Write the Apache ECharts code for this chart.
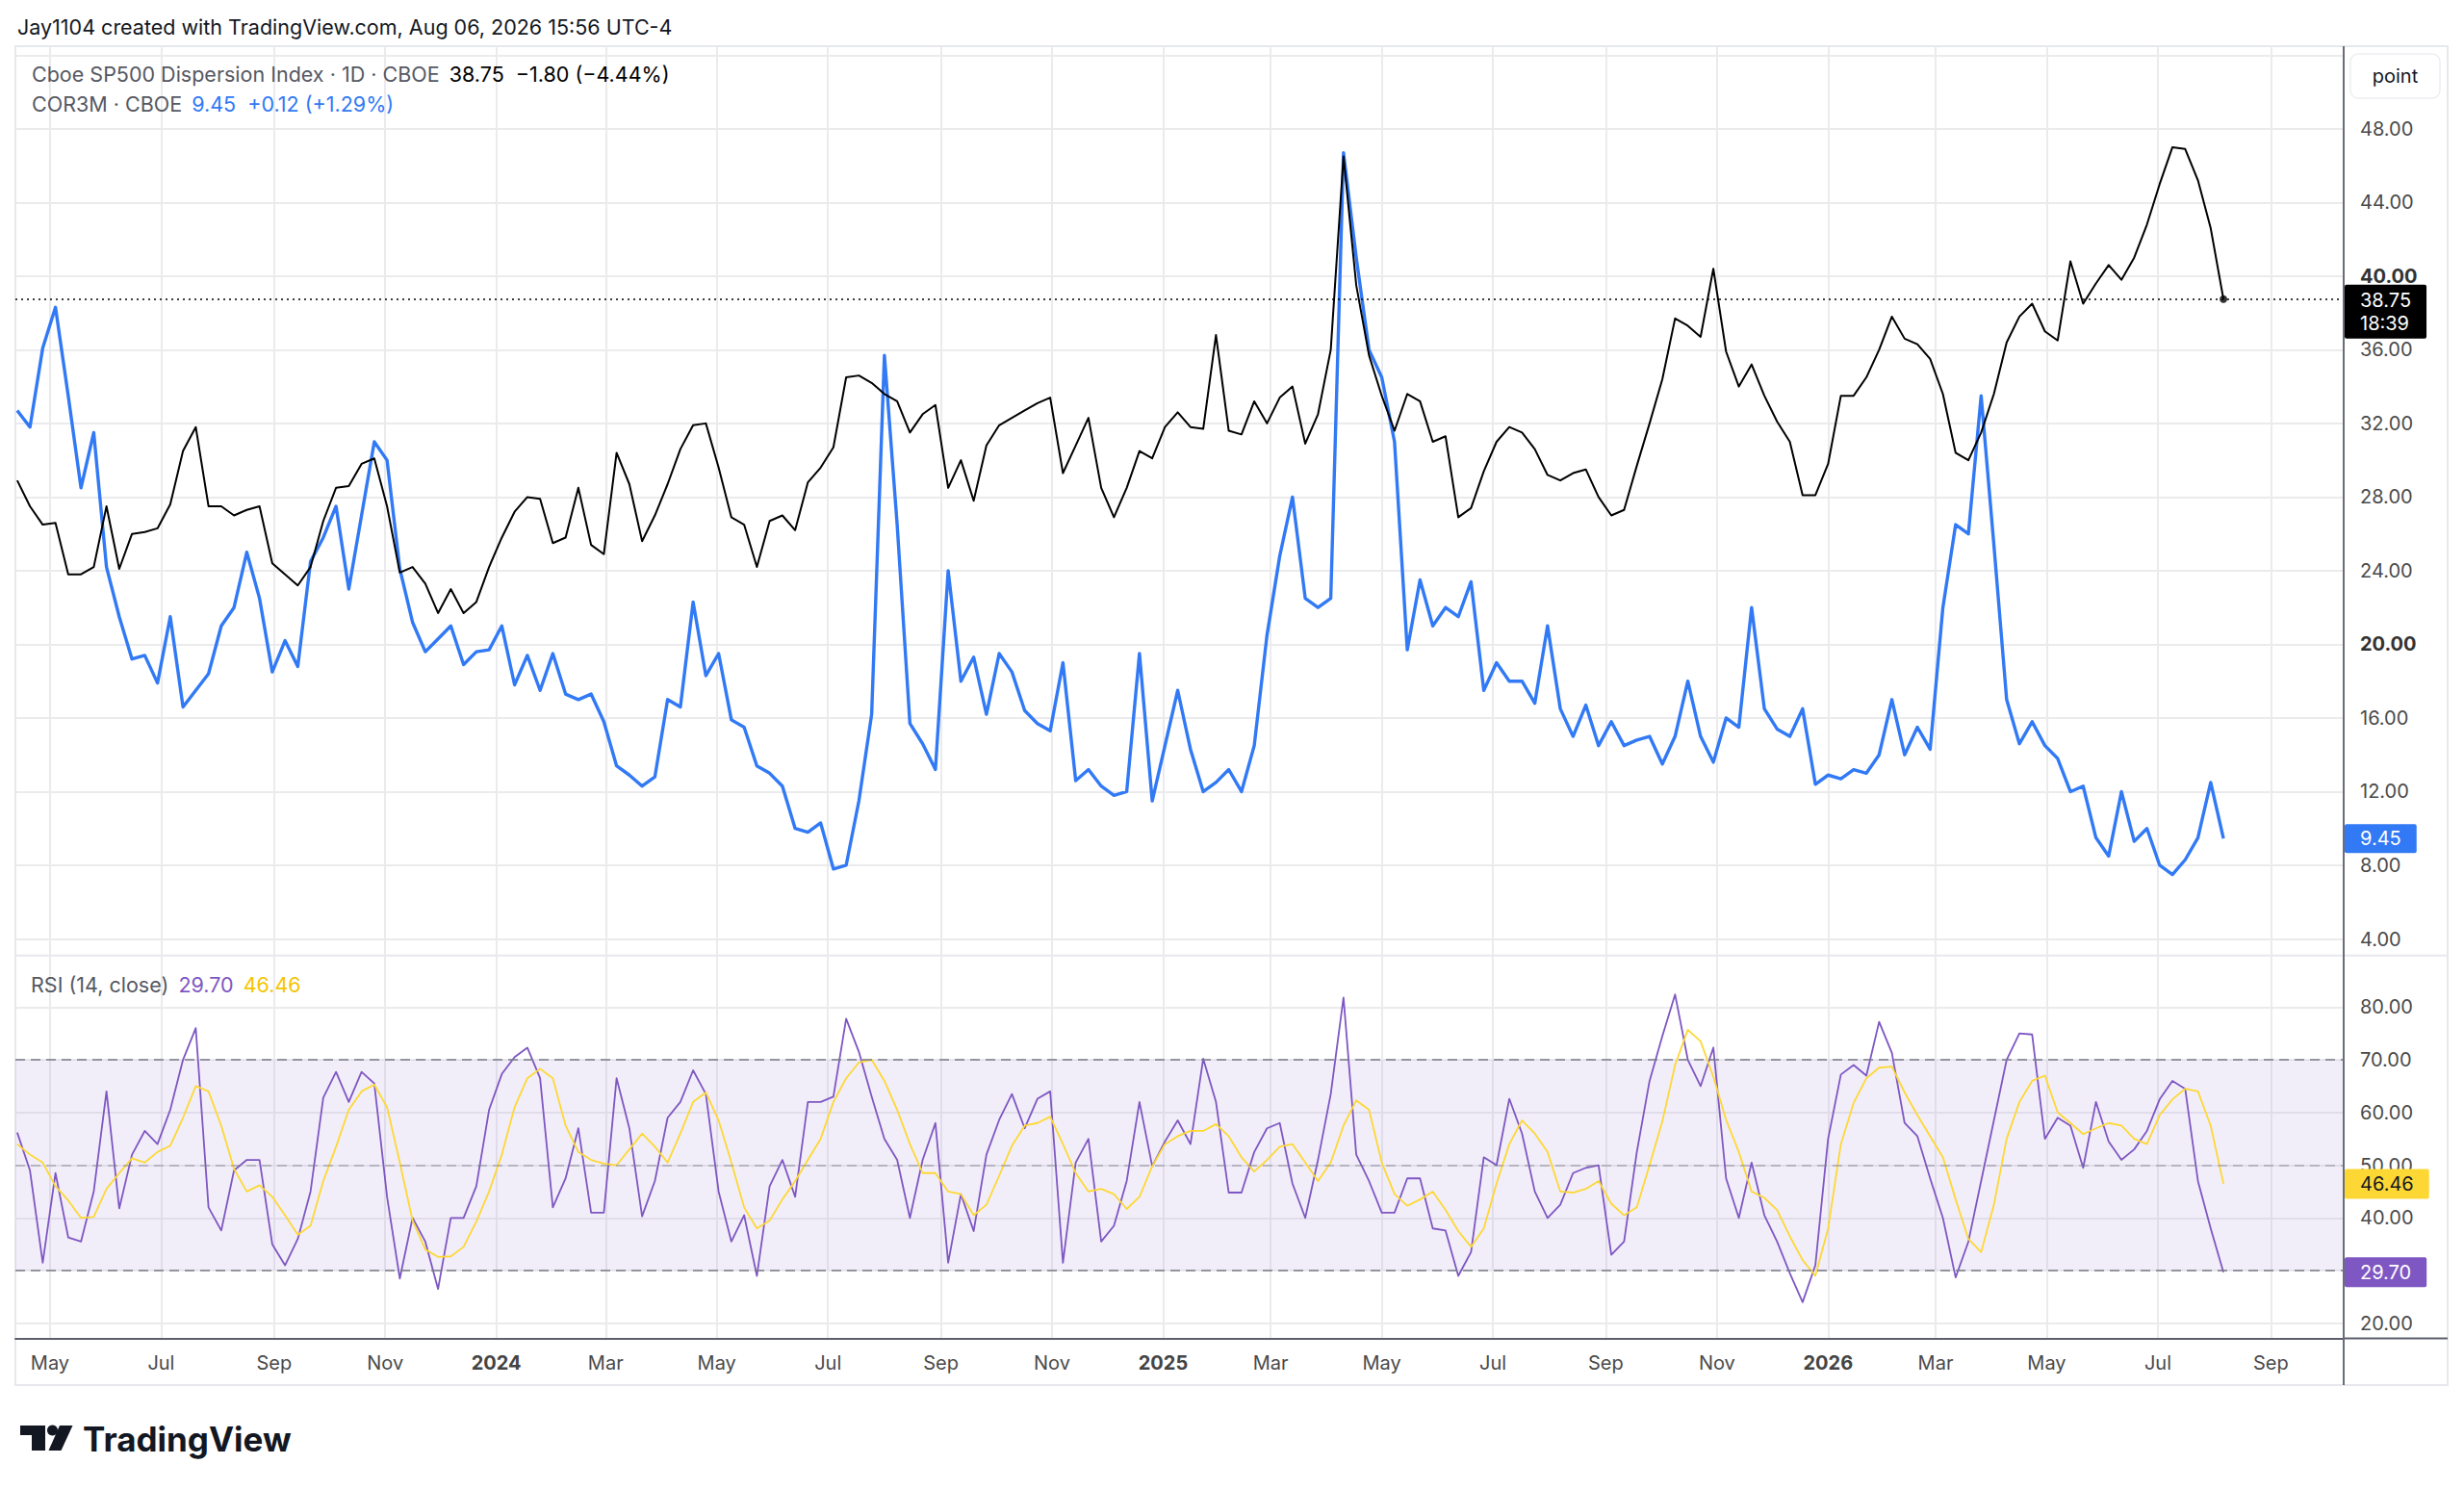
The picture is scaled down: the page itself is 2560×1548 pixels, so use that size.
<!DOCTYPE html>
<html>
<head>
<meta charset="utf-8">
<script src="https://cdn.jsdelivr.net/npm/echarts@6/dist/echarts.min.js"></script>
<style>html,body{margin:0;padding:0;background:#fff}#c{width:2560px;height:1548px}</style>
</head>
<body>
<div id="c"></div>
<script>
// ---------- DATA (weekly samples) ----------
const START_DATE = '2023-04-13';
const STEP_DAYS = 7;

const dispersion = [
28.9,27.5,26.5,26.6,23.8,23.8,24.2,27.5,24.1,26.0,26.1,26.3,27.6,30.5,31.8,27.5,27.5,27.0,27.3,27.5,
24.4,23.8,23.2,24.2,26.7,28.5,28.6,29.8,30.1,27.5,23.9,24.2,23.3,21.7,23.0,21.7,22.3,24.2,25.8,27.2,
28.0,27.9,25.5,25.8,28.5,25.4,24.9,30.4,28.7,25.6,27.0,28.7,30.6,31.9,32.0,29.6,26.9,26.5,24.2,26.7,
27.0,26.2,28.8,29.6,30.7,34.5,34.6,34.2,33.6,33.2,31.5,32.5,33.0,28.5,30.0,27.8,30.8,31.9,32.3,32.7,
33.1,33.4,29.3,30.8,32.3,28.5,26.9,28.5,30.5,30.1,31.8,32.6,31.8,31.7,36.8,31.6,31.4,33.2,32.0,33.4,
34.0,30.9,32.5,36.0,46.5,39.5,35.7,33.5,31.6,33.6,33.2,31.0,31.3,26.9,27.4,29.4,31.0,31.8,31.5,30.6,
29.2,28.9,29.3,29.5,28.0,27.0,27.3,29.7,32.0,34.4,37.7,37.3,36.7,40.4,35.9,34.0,35.2,33.5,32.1,31.0,
28.1,28.1,29.8,33.5,33.5,34.5,36.0,37.8,36.6,36.3,35.5,33.6,30.4,30.0,31.5,33.6,36.4,37.8,38.5,37.0,
36.5,40.8,38.5,39.6,40.6,39.8,41.0,42.8,45.0,47.0,46.9,45.2,42.6,38.75
];

const cor3m = [
32.7,31.8,36.1,38.3,33.5,28.5,31.5,24.2,21.5,19.2,19.4,17.9,21.5,16.6,17.5,18.4,21.0,22.0,25.0,22.5,
18.5,20.2,18.8,24.5,25.8,27.5,23.0,27.0,31.0,30.0,24.1,21.2,19.6,20.3,21.0,18.9,19.6,19.7,21.0,17.8,
19.4,17.5,19.5,17.3,17.0,17.3,15.8,13.4,12.9,12.3,12.8,17.0,16.6,22.3,18.3,19.5,15.9,15.5,13.4,13.0,
12.3,10.0,9.8,10.3,7.8,8.0,11.5,16.2,35.7,26.5,15.7,14.6,13.2,24.0,18.0,19.3,16.2,19.5,18.5,16.4,
15.7,15.3,19.0,12.6,13.2,12.3,11.8,12.0,19.5,11.5,14.5,17.5,14.3,12.0,12.5,13.2,12.0,14.5,20.5,24.8,
28.0,22.5,22.0,22.5,46.7,41.0,36.0,34.5,31.0,19.7,23.5,21.0,22.0,21.5,23.4,17.5,19.0,18.0,18.0,16.8,
21.0,16.5,15.0,16.7,14.5,15.8,14.5,14.8,15.0,13.5,15.0,18.0,15.0,13.6,16.0,15.5,22.0,16.5,15.4,15.0,
16.5,12.4,12.9,12.7,13.2,13.0,14.0,17.0,14.0,15.5,14.3,22.0,26.5,26.0,33.5,25.4,17.0,14.6,15.8,14.5,
13.8,12.0,12.3,9.5,8.5,12.0,9.3,10.0,8.0,7.5,8.3,9.5,12.5,9.45
];

const rsi = [
56.2,49.0,31.5,48.5,36.3,35.5,45.0,64.0,41.8,52.0,56.5,54.0,60.5,70.0,76.0,42.0,37.6,49.0,51.0,51.0,
35.0,31.0,36.0,45.0,62.8,67.7,62.0,67.7,65.5,44.0,28.5,40.0,35.5,26.5,40.0,40.0,46.0,60.5,67.3,70.5,
72.3,66.5,42.0,47.5,57.0,41.0,41.0,66.5,57.0,40.3,47.0,59.0,62.0,68.0,63.5,45.0,35.5,40.5,29.0,46.0,
51.0,44.0,62.0,62.0,63.0,77.8,71.5,63.0,55.0,51.0,40.0,51.0,58.0,31.5,44.5,37.5,52.0,58.6,63.5,57.0,
62.6,64.0,31.5,50.5,55.0,35.5,38.5,47.0,62.0,49.8,54.5,58.5,54.0,70.2,62.0,44.8,44.8,52.5,57.0,58.0,
46.5,40.0,51.0,63.5,81.8,52.0,47.0,41.0,41.0,47.5,47.5,38.0,37.6,29.0,33.5,51.5,50.0,62.6,56.0,45.0,
40.0,42.5,48.5,49.5,50.0,33.0,35.5,52.5,66.0,74.5,82.4,70.0,65.0,72.3,47.5,40.0,50.5,40.5,35.5,29.5,
24.0,31.0,55.0,67.2,69.0,67.0,77.2,71.3,58.0,55.5,47.5,40.0,28.7,35.5,47.0,58.5,70.0,75.0,74.8,55.0,
59.0,57.5,49.5,62.0,54.5,51.0,53.0,56.5,62.5,66.0,64.5,47.0,38.0,29.70
];

const rsiMA = [
54.0,52.0,50.5,46.0,43.3,40.0,40.2,45.5,48.5,51.3,50.5,52.5,53.7,59.0,65.0,64.0,57.5,49.3,45.0,46.2,
44.0,40.5,36.8,38.5,47.0,53.5,60.5,64.0,65.3,61.0,50.5,39.5,34.0,32.6,32.7,34.5,39.3,45.0,52.0,61.0,
66.5,68.3,66.5,57.5,52.5,51.0,50.3,50.0,53.0,56.0,53.5,50.5,56.0,62.0,63.8,58.5,50.5,42.0,38.0,39.5,
43.5,47.0,51.0,55.0,62.0,66.5,69.5,70.0,66.0,60.5,54.0,48.5,48.5,45.0,44.5,40.5,42.5,48.0,53.7,57.5,
58.0,59.2,54.0,48.5,45.0,45.5,44.5,41.7,44.0,49.8,54.0,55.5,56.5,56.5,57.8,55.5,51.5,48.8,51.0,53.5,
54.0,50.5,47.0,50.5,57.5,62.3,60.5,50.5,44.5,42.3,43.5,45.0,41.5,37.5,34.5,38.0,46.5,54.0,58.5,56.0,
52.5,45.0,44.8,45.5,47.0,42.7,40.5,42.0,50.0,58.3,69.0,75.7,73.5,66.8,58.6,52.5,45.0,43.8,41.5,36.5,
32.0,29.0,38.0,54.0,61.8,66.5,68.5,68.7,63.8,59.5,55.5,51.5,43.5,36.0,33.5,42.5,55.0,62.0,66.0,67.0,
60.0,58.0,55.9,57.0,58.0,57.5,55.0,54.0,59.5,62.5,64.5,64.0,57.5,46.46
];

const timeTickDates = ['2023-05-01','2023-07-01','2023-09-01','2023-11-01','2024-01-01','2024-03-01','2024-05-01','2024-07-01','2024-09-01','2024-11-01','2025-01-01','2025-03-01','2025-05-01','2025-07-01','2025-09-01','2025-11-01','2026-01-01','2026-03-01','2026-05-01','2026-07-01','2026-09-01'];
const timeTickLabels = ['May','Jul','Sep','Nov','2024','Mar','May','Jul','Sep','Nov','2025','Mar','May','Jul','Sep','Nov','2026','Mar','May','Jul','Sep'];
const priceTickLabels = [4,8,12,16,20,24,28,32,36,40,44,48];
const priceGridValues = [4,8,12,16,20,24,28,32,36,40,44,48,52];
const rsiTickLabels = [20,30,40,50,60,70,80];
const rsiLevels = [70,50,30];
const COUNTDOWN = '18:39';

// ---------- helpers ----------
function localMs(s){const p=s.split('-').map(Number);return new Date(p[0],p[1]-1,p[2]).getTime();}
const t0 = localMs(START_DATE);
const dateMs = dispersion.map((_, i) => { const d = new Date(t0); d.setDate(d.getDate() + i * STEP_DAYS); return d.getTime(); });
const pair = arr => arr.map((v, i) => [dateMs[i], v]);
const last = dateMs.length - 1;
const tickMs = timeTickDates.map(localMs);
const tickMap = {};
tickMs.forEach((ms, i) => { tickMap[ms] = timeTickLabels[i]; });

const BLUE = '#3179f5', PURPLE = '#7e57c2', YELLOW = '#fdd835';
const GRIDC = '#ebebee', TXT = '#4a4a4a', FONT = 'Inter';
const X_MIN = localMs('2023-04-12'), X_MAX = localMs('2026-10-11');
const HIDDEN_LINE = {color: 'rgba(0,0,0,0)', width: 0};

const valueBox = (bg, fg, extra) => Object.assign({
  show: true, position: 'end', distance: 1, backgroundColor: bg, color: fg, opacity: 1,
  fontSize: 20, fontFamily: FONT, lineHeight: 23, padding: [4, 16, 4, 16], borderRadius: 2
}, extra || {});

const xBase = (grid, showLabel) => ({
  gridIndex: grid, type: 'value', min: X_MIN, max: X_MAX,
  axisLine: {show: showLabel, onZero: false, lineStyle: {color: '#5d606b', width: 2}},
  axisTick: {show: false, customValues: tickMs},
  axisLabel: {
    show: showLabel, customValues: tickMs, margin: 15, color: TXT, fontSize: 20, fontFamily: FONT,
    showMinLabel: true, showMaxLabel: true,
    formatter: v => { const l = tickMap[v]; if (l == null) return ''; return /^\d{4}$/.test(l) ? '{b|' + l + '}' : l; },
    rich: {b: {fontWeight: 'bold', fontSize: 20, fontFamily: FONT, color: '#444'}}
  },
  splitLine: {show: true, lineStyle: {color: GRIDC, width: 2}}
});

const rt = (color) => ({fontSize: 21.5, color: color, fontFamily: FONT, fontWeight: 'normal', lineHeight: 24});

const option = {
  animation: false,
  backgroundColor: '#ffffff',
  textStyle: {fontFamily: FONT},
  title: [
    {text: 'Jay1104 created with TradingView.com, Aug 06, 2026 15:56 UTC-4', left: 18, top: 16, padding: 0,
     textStyle: {fontSize: 21.5, fontWeight: 'normal', color: '#131722', fontFamily: FONT, lineHeight: 24}},
    {text: '{g|Cboe SP500 Dispersion Index · 1D · CBOE}  {k|38.75  −1.80 (−4.44%)}', left: 33, top: 65, padding: 0,
     textStyle: {fontWeight: 'normal', rich: {g: rt('#555862'), k: rt('#000000')}}},
    {text: '{g|COR3M · CBOE}  {k|9.45  +0.12 (+1.29%)}', left: 33, top: 96, padding: 0,
     textStyle: {fontWeight: 'normal', rich: {g: rt('#555862'), k: rt(BLUE)}}},
    {text: '{g|RSI (14, close)}  {p|29.70}  {y|46.46}', left: 32, top: 1011, padding: 0,
     textStyle: {fontWeight: 'normal', rich: {g: rt('#555862'), p: rt(PURPLE), y: rt('#f5c400')}}}
  ],
  grid: [
    {left: 16, right: 125, top: 48, height: 944.7, outerBoundsMode: 'none'},
    {left: 16, right: 125, top: 993, height: 397.5, outerBoundsMode: 'none'}
  ],
  xAxis: [xBase(0, false), xBase(1, true)],
  yAxis: [
    {gridIndex: 0, type: 'value', position: 'right', min: 3.101, max: 52.485,
     axisLine: {show: false}, axisTick: {show: false, customValues: priceGridValues},
     axisLabel: {customValues: priceTickLabels, margin: 17, color: TXT, fontSize: 20, fontFamily: FONT,
       formatter: v => (v === 20 || v === 40) ? '{b|' + v.toFixed(2) + '}' : v.toFixed(2),
       rich: {b: {fontWeight: 'bold', fontSize: 20, fontFamily: FONT, color: '#333'}}},
     splitLine: {show: true, lineStyle: {color: GRIDC, width: 2}}},
    {gridIndex: 1, type: 'value', position: 'right', min: 17.13, max: 89.735,
     axisLine: {show: false}, axisTick: {show: false, customValues: rsiTickLabels},
     axisLabel: {customValues: rsiTickLabels, margin: 17, color: TXT, fontSize: 20, fontFamily: FONT,
       formatter: v => v.toFixed(2)},
     splitLine: {show: true, lineStyle: {color: GRIDC, width: 2}}}
  ],
  series: [
    {name: 'COR3M', type: 'line', xAxisIndex: 0, yAxisIndex: 0, data: pair(cor3m),
     showSymbol: false, symbol: 'none', clip: false, z: 2,
     lineStyle: {color: BLUE, width: 3.4, join: 'round'}, itemStyle: {color: BLUE},
     markLine: {silent: true, symbol: ['none', 'none'], animation: false,
       lineStyle: HIDDEN_LINE,
       label: valueBox(BLUE, '#fff', {formatter: p => Number(p.value).toFixed(2), lineHeight: 22}),
       data: [{yAxis: cor3m[last]}]}},
    {name: 'Dispersion', type: 'line', xAxisIndex: 0, yAxisIndex: 0, data: pair(dispersion),
     showSymbol: false, symbol: 'none', clip: false, z: 3,
     lineStyle: {color: '#000', width: 2, join: 'round'}, itemStyle: {color: '#000'},
     markLine: {silent: true, symbol: ['none', 'none'], animation: false,
       lineStyle: {color: '#000', width: 1.6, type: [2, 4]},
       label: valueBox('#000', '#fff', {formatter: p => Number(p.value).toFixed(2) + '\n' + COUNTDOWN, lineHeight: 24, padding: [4, 16, 4, 16], offset: [0, 13]}),
       data: [{yAxis: dispersion[last]}]}},
    {name: 'last', type: 'scatter', xAxisIndex: 0, yAxisIndex: 0, silent: true, z: 4,
     data: [[dateMs[last], dispersion[last]]], symbolSize: 8, itemStyle: {color: '#000'}},
    {name: 'RSI', type: 'line', xAxisIndex: 1, yAxisIndex: 1, data: pair(rsi),
     showSymbol: false, symbol: 'none', clip: false, z: 3,
     lineStyle: {color: PURPLE, width: 1.8, join: 'round'}, itemStyle: {color: PURPLE},
     markArea: {silent: true, itemStyle: {color: 'rgba(126,87,194,0.10)'},
       data: [[{yAxis: rsiLevels[2]}, {yAxis: rsiLevels[0]}]]},
     markLine: {silent: true, symbol: ['none', 'none'], animation: false,
       label: {show: false},
       data: [
         {yAxis: rsiLevels[0], lineStyle: {color: '#787b86', width: 1.6, type: [10, 6]}},
         {yAxis: rsiLevels[1], lineStyle: {color: '#787b86', width: 1.6, type: [10, 6], opacity: 0.55}},
         {yAxis: rsiLevels[2], lineStyle: {color: '#787b86', width: 1.6, type: [10, 6]}}
       ]}},
    {name: 'RSI last', type: 'line', xAxisIndex: 1, yAxisIndex: 1, data: [], silent: true, z: 5,
     markLine: {silent: true, symbol: ['none', 'none'], animation: false,
       lineStyle: HIDDEN_LINE,
       label: valueBox(PURPLE, '#fff', {formatter: p => Number(p.value).toFixed(2)}),
       data: [{yAxis: rsi[last]}]}},
    {name: 'RSI MA', type: 'line', xAxisIndex: 1, yAxisIndex: 1, data: pair(rsiMA),
     showSymbol: false, symbol: 'none', clip: false, z: 4,
     lineStyle: {color: YELLOW, width: 1.8, join: 'round'}, itemStyle: {color: YELLOW},
     markLine: {silent: true, symbol: ['none', 'none'], animation: false,
       lineStyle: HIDDEN_LINE,
       label: valueBox(YELLOW, '#131722', {formatter: p => Number(p.value).toFixed(2)}),
       data: [{yAxis: rsiMA[last]}]}}
  ],
  graphic: [
    {type: 'rect', silent: true, z: -1, shape: {x: 16, y: 48, width: 2527, height: 1391},
     style: {fill: 'none', stroke: '#e6e8ee', lineWidth: 2}},
    {type: 'line', silent: true, shape: {x1: 16, y1: 992.7, x2: 2543, y2: 992.7},
     style: {stroke: '#e6e8ee', lineWidth: 2}},
    {type: 'line', silent: true, shape: {x1: 2435, y1: 1390.5, x2: 2543, y2: 1390.5},
     style: {stroke: '#5d606b', lineWidth: 2}},
    {type: 'line', silent: true, z: 10, shape: {x1: 2435, y1: 48, x2: 2435, y2: 1439},
     style: {stroke: '#6a6d78', lineWidth: 2}},
    {type: 'rect', silent: true, shape: {x: 2442, y: 56, width: 93, height: 46, r: 8},
     style: {fill: '#fff', stroke: '#eceef2', lineWidth: 1.5}},
    {type: 'text', silent: true, x: 2488.5, y: 79,
     style: {text: 'point', fill: '#131722', fontSize: 20, fontFamily: FONT, align: 'center', verticalAlign: 'middle'}},
    {type: 'polygon', silent: true, shape: {points: [[21,1481],[47,1481],[47,1507],[33,1507],[33,1491],[21,1491]]}, style: {fill: '#131722'}},
    {type: 'circle', silent: true, shape: {cx: 54.5, cy: 1486, r: 5.5}, style: {fill: '#131722'}},
    {type: 'polygon', silent: true, shape: {points: [[62,1481],[75.5,1481],[63.5,1507],[50.5,1507]]}, style: {fill: '#131722'}},
    {type: 'text', silent: true, x: 86, y: 1495,
     style: {text: 'TradingView', fill: '#131722', fontSize: 35, fontWeight: 'bold', fontFamily: FONT, verticalAlign: 'middle'}}
  ]
};

const chart = echarts.init(document.getElementById('c'), null, {renderer: 'svg', width: 2560, height: 1548});
chart.setOption(option);
</script>
</body>
</html>
